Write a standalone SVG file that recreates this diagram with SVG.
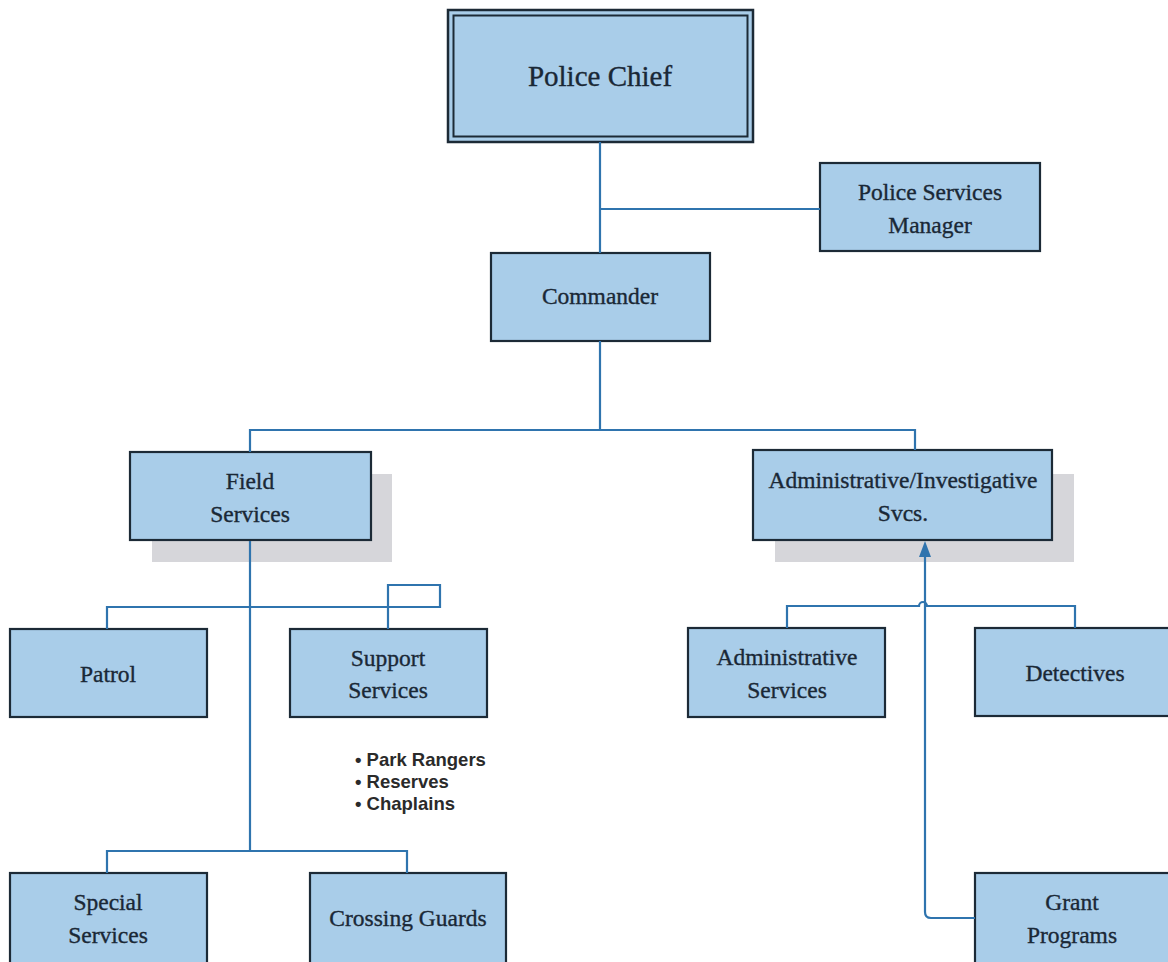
<svg xmlns="http://www.w3.org/2000/svg" width="1168" height="962" viewBox="0 0 1168 962">
  <defs>
    <style>
      .box { fill: #a9cde9; stroke: #1c2a36; stroke-width: 2.2; }
      .shadow { fill: #d6d6da; }
      .conn { fill: none; stroke: #2f74ae; stroke-width: 2.2; }
      .lbl { font-family: "Liberation Serif", "DejaVu Serif", serif; font-size: 23.5px; fill: #1a2836; stroke: #1a2836; stroke-width: 0.35; text-anchor: middle; }
      .big { font-size: 29px; }
      .note { font-family: "Liberation Sans", Arial, sans-serif; font-size: 18.5px; font-weight: bold; fill: #2a2a2a; }
    </style>
  </defs>
  <rect width="1168" height="962" fill="#ffffff"/>

  <g id="police-chief">
    <rect x="448" y="10" width="305" height="132" fill="#a9cde9" stroke="#1c2a36" stroke-width="2.5"/>
    <rect x="453.5" y="15.5" width="294" height="121" fill="none" stroke="#1c2a36" stroke-width="2"/>
    <text class="lbl big" x="600" y="86">Police Chief</text>
  </g>

  <g id="police-services-manager">
    <rect class="box" x="820" y="163" width="220" height="88"/>
    <text class="lbl" x="930" y="200">Police Services</text>
    <text class="lbl" x="930" y="233">Manager</text>
  </g>

  <g id="commander">
    <rect class="box" x="491" y="253" width="219" height="88"/>
    <text class="lbl" x="600" y="304">Commander</text>
  </g>

  <g id="field-services">
    <rect class="shadow" x="152" y="474" width="240" height="88"/>
    <rect class="box" x="130" y="452" width="241" height="88"/>
    <text class="lbl" x="250" y="489">Field</text>
    <text class="lbl" x="250" y="522">Services</text>
  </g>

  <g id="admin-investigative">
    <rect class="shadow" x="775" y="474" width="299" height="88"/>
    <rect class="box" x="753" y="450" width="299" height="90"/>
    <text class="lbl" x="903" y="488">Administrative/Investigative</text>
    <text class="lbl" x="903" y="521">Svcs.</text>
  </g>

  <g id="patrol">
    <rect class="box" x="10" y="629" width="197" height="88"/>
    <text class="lbl" x="108" y="682">Patrol</text>
  </g>

  <g id="support-services">
    <rect class="box" x="290" y="629" width="197" height="88"/>
    <text class="lbl" x="388" y="666">Support</text>
    <text class="lbl" x="388" y="698">Services</text>
  </g>

  <g id="support-units">
    <text class="note" x="355" y="766">• Park Rangers</text>
    <text class="note" x="355" y="788">• Reserves</text>
    <text class="note" x="355" y="810">• Chaplains</text>
  </g>

  <g id="administrative-services">
    <rect class="box" x="688" y="628" width="197" height="89"/>
    <text class="lbl" x="787" y="665">Administrative</text>
    <text class="lbl" x="787" y="698">Services</text>
  </g>

  <g id="detectives">
    <rect class="box" x="975" y="628" width="200" height="88"/>
    <text class="lbl" x="1075" y="681">Detectives</text>
  </g>

  <g id="special-services">
    <rect class="box" x="10" y="873" width="197" height="95"/>
    <text class="lbl" x="108" y="910">Special</text>
    <text class="lbl" x="108" y="943">Services</text>
  </g>

  <g id="crossing-guards">
    <rect class="box" x="310" y="873" width="196" height="95"/>
    <text class="lbl" x="408" y="926">Crossing Guards</text>
  </g>

  <g id="grant-programs">
    <rect class="box" x="975" y="873" width="200" height="95"/>
    <text class="lbl" x="1072" y="910">Grant</text>
    <text class="lbl" x="1072" y="943">Programs</text>
  </g>

  <!-- reporting lines, drawn over the drop shadows -->
  <g id="connectors">
    <path class="conn" d="M600,142 V253"/>
    <path class="conn" d="M600,209 H820"/>
    <path class="conn" d="M600,341 V430"/>
    <path class="conn" d="M250,452 V430 H915 V450"/>
    <path class="conn" d="M250,541 V851"/>
    <path class="conn" d="M107,629 V607 H440 V585 H388 V629"/>
    <path class="conn" d="M107,873 V851 H407 V873"/>
    <path class="conn" d="M787,628 V606 H919 A4,4 0 0 1 927,606 H1075 V628"/>
    <path class="conn" d="M975,918 H931 Q925,918 925,912 V556"/>
    <path d="M919,557 L925,541 L931,557 Z" fill="#2f74ae"/>
  </g>
</svg>
